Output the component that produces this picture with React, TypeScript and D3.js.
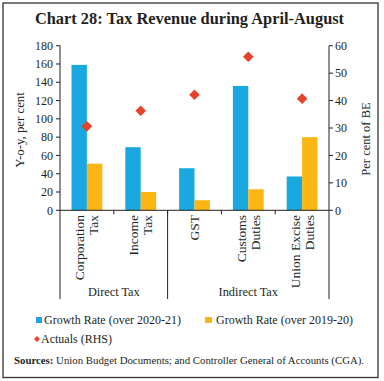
import React from "react";
import * as d3 from "d3";

const categories = ["Corporation Tax", "Income Tax", "GST", "Customs Duties", "Union Excise Duties"];
const categoryLines = [["Corporation", "Tax"], ["Income", "Tax"], ["GST"], ["Customs", "Duties"], ["Union Excise", "Duties"]];
const growth2020 = [159, 69, 46, 136, 37];
const growth2019 = [51, 20, 11, 23, 80];
const actualsRHS = [30.6, 36.3, 42.1, 56, 40.7];
const groups = [
  { name: "Direct Tax", start: 0, end: 2 },
  { name: "Indirect Tax", start: 2, end: 5 },
];
const leftTicks = [0, 20, 40, 60, 80, 100, 120, 140, 160, 180];
const rightTicks = [0, 10, 20, 30, 40, 50, 60];
const seriesNames = ["Growth Rate (over 2020-21)", "Growth Rate (over 2019-20)", "Actuals (RHS)"];

const BLUE = "#1aa8e0";
const ORANGE = "#fcb614";
const RED = "#e8412b";
const FONT = "'Liberation Serif', 'DejaVu Serif', serif";
const TEXT = "#231f20";

export default function App() {
  const W = 384, H = 381;
  const left = 60, right = 329, top = 45.7, bottom = 210.3;
  const x = d3.scaleBand<string>().domain(categories).range([left, right]).padding(0);
  const bw = x.bandwidth();
  const gw = 30.8;
  const xs = d3.scaleBand<string>().domain(["a", "b"]).range([(bw - gw) / 2, (bw + gw) / 2]).padding(0);
  const yL = d3.scaleLinear().domain([0, 180]).range([bottom, top]);
  const yR = d3.scaleLinear().domain([0, 60]).range([bottom, top]);
  const diamond = d3.symbol().type(d3.symbolSquare).size(56)();
  const boundaries = categories.slice(1).map((c) => x(c)!);

  return (
    <svg width={W} height={H} style={{ position: "absolute", left: 0, top: 0 }} fontFamily={FONT}>
      <rect x={3} y={3} width={375} height={374.5} fill="white" stroke="#333" strokeWidth={1.3} />
      <text x={189.5} y={24} textAnchor="middle" fontSize={16.4} fontWeight="bold" fill={TEXT}>
        Chart 28: Tax Revenue during April-August
      </text>

      {/* bars */}
      {categories.map((c, i) => (
        <g key={c} transform={`translate(${x(c)},0)`}>
          <rect x={xs("a")} y={yL(growth2020[i])} width={xs.bandwidth()} height={bottom - yL(growth2020[i])} fill={BLUE} />
          <rect x={xs("b")} y={yL(growth2019[i])} width={xs.bandwidth()} height={bottom - yL(growth2019[i])} fill={ORANGE} />
        </g>
      ))}
      {categories.map((c, i) => (
        <path key={c} d={diamond!} fill={RED}
          transform={`translate(${x(c)! + bw / 2},${yR(actualsRHS[i])}) rotate(45)`} />
      ))}

      {/* left axis */}
      <line x1={left} x2={left} y1={top} y2={bottom} stroke={TEXT} strokeWidth={1} />
      {leftTicks.map((t) => (
        <g key={t}>
          <line x1={left - 4} x2={left} y1={yL(t)} y2={yL(t)} stroke={TEXT} />
          <text x={left - 7} y={yL(t)} dy="0.35em" textAnchor="end" fontSize={12} fill={TEXT}>{t}</text>
        </g>
      ))}
      <text transform={`translate(24,${(top + bottom) / 2 + 2}) rotate(-90)`} textAnchor="middle" fontSize={12.8} fill={TEXT}>
        Y-o-y, per cent
      </text>

      {/* right axis */}
      <line x1={right} x2={right} y1={top} y2={bottom} stroke={TEXT} strokeWidth={1} />
      {rightTicks.map((t) => (
        <g key={t}>
          <line x1={right} x2={right + 4} y1={yR(t)} y2={yR(t)} stroke={TEXT} />
          <text x={right + 6} y={yR(t)} dy="0.35em" textAnchor="start" fontSize={12} fill={TEXT}>{t}</text>
        </g>
      ))}
      <text transform={`translate(370,${(top + bottom) / 2 + 11}) rotate(-90)`} textAnchor="middle" fontSize={12.5} fill={TEXT}>
        Per cent of BE
      </text>

      {/* x axis */}
      <line x1={left} x2={right} y1={bottom} y2={bottom} stroke={TEXT} strokeWidth={1} />
      {boundaries.map((b, i) => (
        <line key={i} x1={b} x2={b} y1={bottom} y2={bottom + 4} stroke={TEXT} />
      ))}
      {[0, ...groups.map((g) => g.end)].map((e, i) => {
        const xx = e === categories.length ? right : x(categories[e])!;
        return <line key={i} x1={xx} x2={xx} y1={bottom} y2={299} stroke={TEXT} />;
      })}
      {categories.map((c, i) => {
        const lines = categoryLines[i];
        const cx = x(c)! + bw / 2;
        return lines.map((ln, j) => {
          const off = (j - (lines.length - 1) / 2) * 14;
          return (
            <text key={c + j} transform={`translate(${cx + off + 4.5},215) rotate(-90)`} textAnchor="end" fontSize={13.5} fill={TEXT}>
              {ln}
            </text>
          );
        });
      })}
      {groups.map((g) => {
        const x0 = x(categories[g.start])!;
        const x1 = g.end === categories.length ? right : x(categories[g.end])!;
        return (
          <text key={g.name} x={(x0 + x1) / 2} y={296} textAnchor="middle" fontSize={12.3} fill={TEXT}>{g.name}</text>
        );
      })}

      {/* legend */}
      <rect x={36} y={317} width={6} height={6} fill={BLUE} />
      <text x={44} y={324} fontSize={12} fill={TEXT}>{seriesNames[0]}</text>
      <rect x={205} y={317} width={7} height={6} fill={ORANGE} />
      <text x={216} y={324} fontSize={12} fill={TEXT}>{seriesNames[1]}</text>
      <path d={d3.symbol().type(d3.symbolSquare).size(18)()!} fill={RED} transform="translate(37,339) rotate(45)" />
      <text x={41} y={343} fontSize={12} fill={TEXT}>{seriesNames[2]}</text>

      <text x={14} y={364} fontSize={10.8} fill={TEXT}>
        <tspan fontWeight="bold">Sources:</tspan> Union Budget Documents; and Controller General of Accounts (CGA).
      </text>
    </svg>
  );
}
